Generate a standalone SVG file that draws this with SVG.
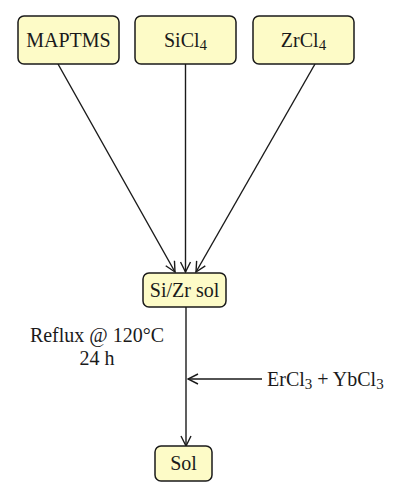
<svg xmlns="http://www.w3.org/2000/svg" width="401" height="500" viewBox="0 0 401 500">
<style>
.box{fill:#fdfbc7;stroke:#1a1a1a;stroke-width:1.5}
.t{font-family:"Liberation Serif",serif;font-size:20px;fill:#1a1a1a}
.c{stroke:#1a1a1a;stroke-width:1.4;fill:none}
</style>
<defs>
<marker id="ah" viewBox="0 0 12 12" refX="11" refY="6" markerWidth="12" markerHeight="12" markerUnits="userSpaceOnUse" orient="auto">
<path d="M1,1 L11,6 L1,11" fill="none" stroke="#1a1a1a" stroke-width="1.4"/>
</marker>
</defs>
<rect width="401" height="500" fill="#fff"/>
<g id="connectors">
<line class="c" x1="58" y1="64" x2="175" y2="272" marker-end="url(#ah)"/>
<line class="c" x1="185.5" y1="64" x2="185.5" y2="272" marker-end="url(#ah)"/>
<line class="c" x1="315" y1="64" x2="196" y2="272" marker-end="url(#ah)"/>
<line class="c" x1="186" y1="307" x2="186" y2="446" marker-end="url(#ah)"/>
<line class="c" x1="262" y1="379" x2="188" y2="379" marker-end="url(#ah)"/>
</g>
<g id="MAPTMS">
<rect class="box" x="18" y="16" width="101" height="48" rx="6"/>
<text class="t" x="68.5" y="47" text-anchor="middle">MAPTMS</text>
</g>
<g id="SiCl4">
<rect class="box" x="135" y="16" width="101" height="48" rx="6"/>
<text class="t" x="185.5" y="47" text-anchor="middle">SiCl<tspan font-size="15" dy="3">4</tspan></text>
</g>
<g id="ZrCl4">
<rect class="box" x="253" y="16" width="101" height="48" rx="6"/>
<text class="t" x="303.5" y="47" text-anchor="middle">ZrCl<tspan font-size="15" dy="3">4</tspan></text>
</g>
<g id="SiZrSol">
<rect class="box" x="143" y="273" width="83" height="34" rx="6"/>
<text class="t" x="184.5" y="297" text-anchor="middle">Si/Zr sol</text>
</g>
<g id="Sol">
<rect class="box" x="155" y="446" width="57" height="35" rx="6"/>
<text class="t" x="183.5" y="470" text-anchor="middle">Sol</text>
</g>
<g id="labels">
<text class="t" x="97" y="342" text-anchor="middle">Reflux @ 120°C</text>
<text class="t" x="97" y="365" text-anchor="middle">24 h</text>
<text class="t" x="267" y="386">ErCl<tspan font-size="15" dy="3">3</tspan><tspan dy="-3"> + YbCl</tspan><tspan font-size="15" dy="3">3</tspan></text>
</g>
</svg>
